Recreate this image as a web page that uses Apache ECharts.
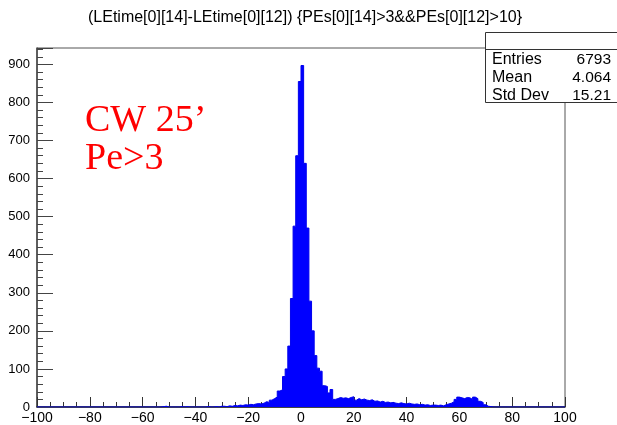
<!DOCTYPE html>
<html>
<head>
<meta charset="utf-8">
<script src="https://cdn.jsdelivr.net/npm/echarts@6/dist/echarts.min.js"></script>
<style>
  html, body { margin: 0; padding: 0; background: #ffffff; }
  #chart { width: 617px; height: 425px; }
</style>
</head>
<body>
<div id="chart"></div>
<script>
// Histogram of LEtime[0][14] - LEtime[0][12], 200 bins of width 1 from -100 to 100
const histTitle = '(LEtime[0][14]-LEtime[0][12]) {PEs[0][14]>3&&PEs[0][12]>10}';
const binStart = -100;
const binWidth = 1;

// counts per bin, bins [-100,-99) ... [99,100)
const countsNeg100to61 = [
  0,0,0,0,0,0,0,0,0,0, 0,0,0,0,0,0,0,0,0,0,
  0,0,0,0,0,0,0,0,0,0, 0,0,0,0,0,0,0,0,0,0
];
const countsNeg60to31 = [
  0,0,0,0,0,0,0,1,2,0, 0,0,0,0,1,0,1,0,0,0,
  0,0,0,0,1,0,0,1,0,2
];
const countsNeg30to1 = [
  2,1,3,2,4,3,5,4,6,5, 7,6,8,9,8,10,14,12,18,22,
  26,42,45,80,100,160,285,475,660,855
];
const counts0to29 = [
  897,640,470,278,200,135,102,94,56,54,
  37,46,20,22,25,23,24,22,25,27,
  18,22,19,21,18,17,19,15,16,13
];
const counts30to59 = [
  15,12,13,11,12,10,9,11,9,8,
  10,8,7,8,6,7,5,6,4,5,
  5,4,5,3,6,8,10,14,20,26
];
const counts60to99 = [
  24,22,25,24,20,26,22,15,12,6,
  2,1,0,0,0,0,0,0,0,0,
  0,0,0,0,0,0,0,0,0,0, 0,0,0,0,0,0,0,0,0,0
];
const counts = [].concat(countsNeg100to61, countsNeg60to31, countsNeg30to1,
                         counts0to29, counts30to59, counts60to99);

// statistics box
const statNames = ['Entries', 'Mean', 'Std Dev'];
const statValues = ['6793', '4.064', '15.21'];

// annotation
const noteLines = ['CW 25\u2019', 'Pe>3'];

const xTicks = [-100, 100, 20];   // min, max, step
const yTicks = [0, 943, 100];     // min, max, step

// step outline: one point at each bin's lower edge, plus the last upper edge
const outline = counts.map((c, i) => [binStart + i * binWidth, c]);
outline.push([binStart + counts.length * binWidth, counts[counts.length - 1]]);

const font = '"Liberation Sans", Arial, Helvetica, sans-serif';
const serif = '"Liberation Serif", "Times New Roman", serif';
const minus = v => String(v).replace('-', '\u2212');

const chart = echarts.init(document.getElementById('chart'), null, { renderer: 'canvas' });

const statGraphics = [];
statNames.forEach((n, i) => {
  statGraphics.push({
    type: 'text', x: 492, y: 60 + i * 18, z: 20,
    style: { text: n, font: '16px ' + font, fill: '#000', verticalAlign: 'middle' }
  });
  statGraphics.push({
    type: 'text', x: 611, y: 60 + i * 18, z: 20,
    style: { text: statValues[i], font: '15.5px ' + font, fill: '#000', align: 'right', verticalAlign: 'middle' }
  });
});

chart.setOption({
  animation: false,
  backgroundColor: '#ffffff',
  grid: {
    left: 37, right: 52, top: 48, bottom: 17,
    show: true, borderColor: '#555', borderWidth: 1, backgroundColor: 'transparent'
  },
  xAxis: {
    type: 'value', min: xTicks[0], max: xTicks[1], interval: xTicks[2],
    axisLine: { show: true, onZero: false, lineStyle: { color: '#222', width: 1.5 } },
    axisTick: { show: true, inside: true, length: 10, lineStyle: { color: '#333' } },
    minorTick: { show: true, splitNumber: 4, length: 5, lineStyle: { color: '#333' } },
    splitLine: { show: false },
    axisLabel: { color: '#000', fontSize: 14, fontFamily: font, margin: 4, formatter: v => minus(v) }
  },
  yAxis: {
    type: 'value', min: yTicks[0], max: yTicks[1], interval: yTicks[2],
    axisLine: { show: true, onZero: false, lineStyle: { color: '#444', width: 1.5 } },
    axisTick: { show: true, inside: true, length: 16, lineStyle: { color: '#444' } },
    minorTick: { show: true, splitNumber: 5, length: 6, lineStyle: { color: '#444' } },
    splitLine: { show: false },
    axisLabel: {
      color: '#000', fontSize: 13, fontFamily: font, margin: 7, showMaxLabel: false,
      formatter: v => (v % 100 === 0 ? String(v) : '')
    }
  },
  series: [
    {
      type: 'line',
      data: outline,
      step: 'end',
      symbol: 'none',
      lineStyle: { color: '#0000ee', width: 1 },
      areaStyle: { color: '#0000ff', opacity: 1, origin: 'start' },
      z: 3
    }
  ],
  graphic: [
    {
      type: 'text', x: 305, y: 18,
      style: { text: histTitle, font: '16px ' + font, fill: '#000', align: 'center', verticalAlign: 'middle' }
    },
    {
      type: 'rect', x: 485.5, y: 32.5, z: 10,
      shape: { width: 140, height: 70 },
      style: { fill: '#fff', stroke: '#333', lineWidth: 1 }
    },
    {
      type: 'line', x: 485.5, y: 49.5, z: 11,
      shape: { x1: 0, y1: 0, x2: 140, y2: 0 },
      style: { stroke: '#333', lineWidth: 1 }
    },
    ...statGraphics,
    {
      type: 'text', left: 85, top: 102, z: 20,
      style: { text: noteLines[0], font: '38px ' + serif, fill: '#ff0000' }
    },
    {
      type: 'text', left: 85, top: 140, z: 20,
      style: { text: noteLines[1], font: '38px ' + serif, fill: '#ff0000' }
    }
  ]
});
</script>
</body>
</html>
